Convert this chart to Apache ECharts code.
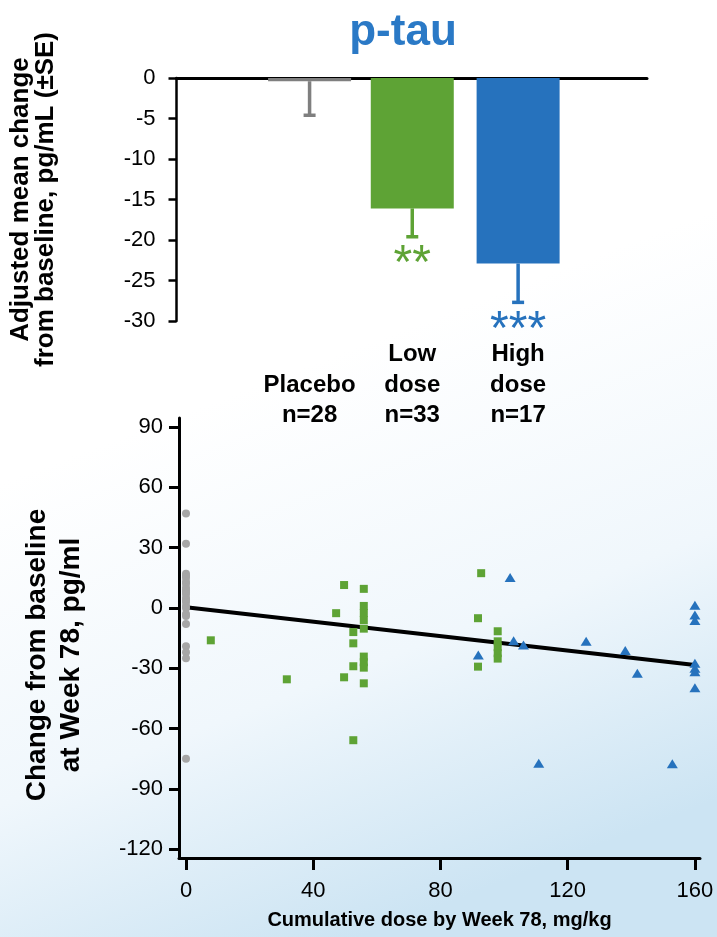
<!DOCTYPE html>
<html>
<head>
<meta charset="utf-8">
<script src="https://cdn.jsdelivr.net/npm/echarts@6/dist/echarts.min.js"></script>
<style>
  html, body { margin: 0; padding: 0; }
  #chart { width: 717px; height: 937px; }
</style>
</head>
<body>
<div id="chart"></div>
<script>
// 柱状图 (adjusted mean change)
var barLabels = ['Placebo\nn=28', 'Low\ndose\nn=33', 'High\ndose\nn=17'];
var barPos = [1.27, 2.25, 3.26];
var barMeans = [-0.4, -16.1, -22.9];
var barErrEnds = [-4.6, -19.6, -27.7];
var barSig = ['', '**', '***'];
var barColors = ['#7f7f7f', '#5ea335', '#2672bd'];

// 散点图 (change vs cumulative dose)
var placeboPts = [[0, 47], [0, 32], [0, 17], [0, 16], [0, 15], [0, 13], [0, 12], [0, 10], [0, 9],
    [0, 8], [0, 7], [0, 5], [0, 4], [0, 3], [0, 1], [0, 0], [0, -3], [0, -4], [0, -8],
    [0, -19], [0, -22], [0, -25], [0, -75]];
var lowDosePts = [[7.8, -16.1], [31.7, -35.5], [47.2, -2.6], [49.7, 11.4], [49.7, -34.5],
    [52.6, -12], [52.6, -17.6], [52.6, -29], [52.6, -65.8],
    [55.9, 9.5], [55.9, 1], [55.9, -2.5], [55.9, -6], [55.9, -10.3],
    [55.9, -24.2], [55.9, -27], [55.9, -29.7], [55.9, -37.5],
    [91.8, -5.1], [91.8, -29.2], [92.8, 17.3],
    [98, -11.6], [98, -16.6], [98, -19.5], [98, -22.5], [98, -25.2]];
var highDosePts = [[91.9, -23.4], [101.9, 15.1], [103, -16.3], [106.1, -18.4], [110.9, -77.3],
    [125.8, -16.6], [138.1, -21.2], [141.9, -32.5], [152.9, -77.5],
    [160, 1.3], [160, -3.5], [160, -6.3], [160, -27.5], [160, -30], [160, -31.7], [160, -39.7]];
var fitLine = [[0, 0.3], [160, -28.4]];
var doseTicks = [0, 40, 80, 120, 160];
var changeTicks = [-120, -90, -60, -30, 0, 30, 60, 90];

var font = 'Liberation Sans, Arial, sans-serif';
var chart = echarts.init(document.getElementById('chart'));

var option = {
    animation: false,
    backgroundColor: {
        type: 'linear', x: 0, y: 0, x2: 0.5, y2: 1,
        colorStops: [
            { offset: 0, color: '#ffffff' },
            { offset: 0.45, color: '#ffffff' },
            { offset: 0.75, color: '#f0f7fc' },
            { offset: 1, color: '#cce4f3' }
        ]
    },
    title: {
        text: 'p-tau',
        left: 398,
        top: 6,
        textAlign: 'center',
        textStyle: { color: '#2a79c6', fontSize: 44, fontWeight: 'bold', fontFamily: font }
    },
    grid: [
        { left: 176, top: 78, width: 471, height: 243 },
        { left: 179, top: 418, width: 521, height: 440 }
    ],
    xAxis: [
        {
            gridIndex: 0, type: 'value', min: 0, max: 4.49, position: 'top',
            axisLine: { lineStyle: { color: '#000', width: 3 } },
            axisTick: { show: false }, axisLabel: { show: false }, splitLine: { show: false }
        },
        {
            gridIndex: 0, type: 'value', min: 0, max: 4.49, position: 'bottom',
            axisLine: { show: false, onZero: false },
            axisTick: { show: false }, splitLine: { show: false },
            axisLabel: {
                customValues: barPos,
                formatter: function (v) { return barLabels[barPos.indexOf(v)] || ''; },
                margin: 110, verticalAlign: 'bottom',
                color: '#000', fontSize: 24, fontWeight: 'bold', lineHeight: 30.5, fontFamily: font
            }
        },
        {
            gridIndex: 1, type: 'value', min: -2.2, max: 161.6,
            axisLine: { onZero: false, lineStyle: { color: '#000', width: 3 } },
            axisTick: { customValues: doseTicks, length: 12, lineStyle: { width: 3, color: '#000' } },
            axisLabel: { customValues: doseTicks, margin: 22, color: '#000', fontSize: 22, fontFamily: font },
            splitLine: { show: false },
            name: 'Cumulative dose by Week 78, mg/kg',
            nameLocation: 'middle', nameGap: 52,
            nameTextStyle: { color: '#000', fontSize: 20, fontWeight: 'bold', fontFamily: font }
        }
    ],
    yAxis: [
        {
            gridIndex: 0, type: 'value', min: -30, max: 0, interval: 5,
            axisLine: { show: true, onZero: false, lineStyle: { color: '#000', width: 2.5 } },
            axisTick: { show: true, length: 8, lineStyle: { width: 2.5, color: '#000' } },
            axisLabel: { margin: 21, color: '#000', fontSize: 22, fontFamily: font },
            splitLine: { show: false },
            name: 'Adjusted mean change\nfrom baseline, pg/mL (±SE)',
            nameLocation: 'middle', nameRotate: 90, nameGap: 118,
            nameTextStyle: { color: '#000', fontSize: 26, fontWeight: 'bold', lineHeight: 25, fontFamily: font }
        },
        {
            gridIndex: 1, type: 'value', min: -124.4, max: 94.5,
            axisLine: { show: true, onZero: false, lineStyle: { color: '#000', width: 3 } },
            axisTick: { show: true, customValues: changeTicks, length: 10, lineStyle: { width: 3, color: '#000' } },
            axisLabel: { customValues: changeTicks, margin: 16, color: '#000', fontSize: 22, fontFamily: font },
            splitLine: { show: false },
            name: 'Change from baseline\nat Week 78, pg/ml',
            nameLocation: 'middle', nameRotate: 90, nameGap: 91,
            nameTextStyle: {
                color: '#000', fontSize: 28, fontWeight: 'bold', lineHeight: 34, fontFamily: font,
                padding: [0, 34, 0, 0]
            }
        }
    ],
    series: [
        {
            type: 'bar', xAxisIndex: 0, yAxisIndex: 0, barWidth: 83,
            data: barPos.map(function (p, i) {
                return { value: [p, barMeans[i]], itemStyle: { color: barColors[i] } };
            })
        },
        {
            // 误差线 + 显著性
            type: 'custom', xAxisIndex: 0, yAxisIndex: 0,
            data: barPos.map(function (p, i) { return [p, barMeans[i], barErrEnds[i]]; }),
            renderItem: function (params, api) {
                var i = params.dataIndex;
                var top = api.coord([api.value(0), api.value(1)]);
                var end = api.coord([api.value(0), api.value(2)]);
                var c = barColors[i];
                return {
                    type: 'group',
                    children: [
                        { type: 'line', shape: { x1: top[0], y1: top[1], x2: end[0], y2: end[1] }, style: { stroke: c, lineWidth: 3.5 } },
                        { type: 'line', shape: { x1: end[0] - 6, y1: end[1], x2: end[0] + 6, y2: end[1] }, style: { stroke: c, lineWidth: 3.5 } },
                        {
                            type: 'text',
                            style: {
                                text: barSig[i], x: end[0], y: end[1] + 4,
                                align: 'center', verticalAlign: 'top',
                                fill: c, fontSize: 48, fontWeight: 'normal', fontFamily: font
                            }
                        }
                    ]
                };
            }
        },
        {
            type: 'line', xAxisIndex: 2, yAxisIndex: 1, data: fitLine, symbol: 'none', z: 1,
            lineStyle: { color: '#000', width: 4 }
        },
        {
            type: 'scatter', xAxisIndex: 2, yAxisIndex: 1, data: placeboPts,
            symbol: 'circle', symbolSize: 8, itemStyle: { color: '#a6a6a6', opacity: 1 }
        },
        {
            type: 'scatter', xAxisIndex: 2, yAxisIndex: 1, data: lowDosePts,
            symbol: 'rect', symbolSize: 8, itemStyle: { color: '#5ea335', opacity: 1 }
        },
        {
            type: 'scatter', xAxisIndex: 2, yAxisIndex: 1, data: highDosePts,
            symbol: 'triangle', symbolSize: [11, 9], itemStyle: { color: '#2672bd', opacity: 1 }
        }
    ]
};
chart.setOption(option);
</script>
</body>
</html>
